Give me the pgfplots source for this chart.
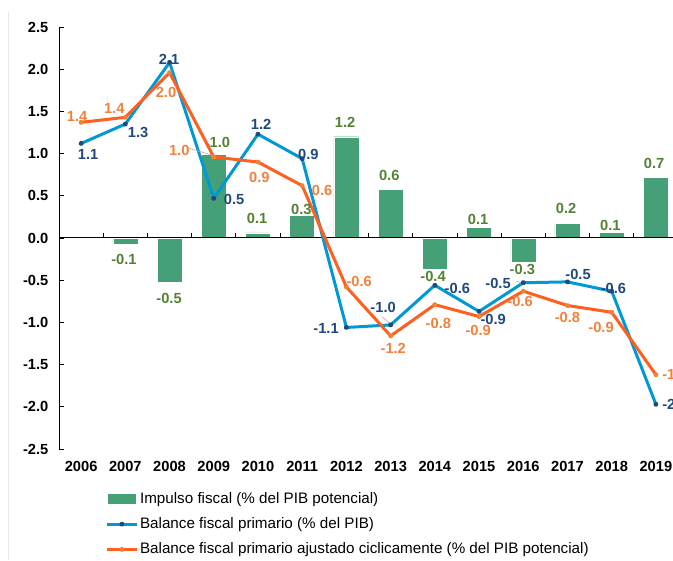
\documentclass[border=0pt]{standalone}
\usepackage{pgfplots}
\pgfplotsset{compat=1.18}
\usepackage{fontspec}
\setmainfont{Liberation Sans}
\definecolor{barg}{RGB}{69,160,119}
\definecolor{lblue}{RGB}{0,153,214}
\definecolor{lorange}{RGB}{255,95,31}
\definecolor{tblue}{RGB}{31,73,125}
\definecolor{torange}{RGB}{240,130,60}
\definecolor{tgreen}{RGB}{84,130,53}
\newcommand{\lab}[4]{\node[text=#1,font=\bfseries\fontsize{11}{13}\selectfont,inner sep=0pt] at (axis cs:#2,#3) {#4};}
\begin{document}
\begin{tikzpicture}
\useasboundingbox (0,0) rectangle (504.75pt,420pt);
\clip (0,0) rectangle (504.75pt,420pt);
\draw[gray!18, line width=0.75pt] (6pt,0) -- (6pt,411pt);
\begin{axis}[
  at={(44.25pt,83.25pt)}, anchor=south west,
  scale only axis, width=464.25pt, height=316.5pt,
  xmin=-0.5, xmax=13.5, ymin=-2.5, ymax=2.5,
  axis y line*=left, axis x line*=bottom,
  x axis line style={draw=none},
  y axis line style={-, line width=0.75pt, black},
  ytick pos=left, xtick pos=left,
  tick align=inside, major tick length=3.5pt,
  ytick={-2.5,-2,-1.5,-1,-0.5,0,0.5,1,1.5,2,2.5},
  yticklabels={-2.5,-2.0,-1.5,-1.0,-0.5,0.0,0.5,1.0,1.5,2.0,2.5},
  ytick style={black, line width=0.6pt},
  xtick={0,1,2,3,4,5,6,7,8,9,10,11,12,13},
  xticklabels={2006,2007,2008,2009,2010,2011,2012,2013,2014,2015,2016,2017,2018,2019},
  xtick style={draw=none},
  ticklabel style={font=\bfseries\fontsize{11}{13}\selectfont},
  yticklabel style={xshift=-4.5pt},
  xticklabel style={yshift=-6pt},
  legend style={at={(0.074,-0.0975)}, anchor=north west, draw=none, fill=none,
    inner sep=0pt, font=\fontsize{11.4}{13.5}\selectfont, row sep=6.2pt,
    cells={anchor=west}, nodes={inner sep=1.5pt}},
  legend cell align=left,
]
\addplot[ybar, bar width=18.75pt, fill=barg, draw=white, line width=0.3pt,
  legend image code/.code={\fill[barg] (0pt,-3.4pt) rectangle (20.5pt,3.4pt);}]
  coordinates {(0,0) (1,-0.07) (2,-0.52) (3,0.99) (4,0.06) (5,0.27) (6,1.2) (7,0.58)
  (8,-0.37) (9,0.13) (10,-0.29) (11,0.17) (12,0.07) (13,0.72)};
\addlegendentry{Impulso fiscal (\% del PIB potencial)}
\draw[black, line width=0.75pt] (axis cs:-0.5,0) -- (axis cs:13.5,0);
\pgfplotsinvokeforeach{0.5,1.5,2.5,3.5,4.5,5.5,6.5,7.5,8.5,9.5,10.5,11.5,12.5}{
  \draw[black, line width=0.6pt] (axis cs:#1,0) -- ++(0pt,3.5pt);
}
\addplot[lblue, line width=2.25pt, line join=round, mark=*, mark size=0.9pt,
  mark options={fill=tblue, draw=tblue},
  legend image code/.code={\draw[lblue, line width=2.25pt] (-1pt,0pt) -- (21.5pt,0pt); \fill[tblue] (10.5pt,0pt) circle (0.9pt);}]
  coordinates {(0,1.12) (1,1.35) (2,2.08) (3,0.47) (4,1.23) (5,0.94) (6,-1.06) (7,-1.03)
  (8,-0.56) (9,-0.87) (10,-0.53) (11,-0.52) (12,-0.63) (13,-1.97)};
\addlegendentry{Balance fiscal primario (\% del PIB)}
\addplot[lorange, line width=2.25pt, line join=round, mark=*, mark size=0.9pt,
  mark options={fill=torange, draw=torange},
  legend image code/.code={\draw[lorange, line width=2.25pt] (-1pt,0pt) -- (21.5pt,0pt); \fill[torange] (10.5pt,0pt) circle (0.9pt);}]
  coordinates {(0,1.37) (1,1.43) (2,1.96) (3,0.96) (4,0.90) (5,0.62) (6,-0.58) (7,-1.16)
  (8,-0.79) (9,-0.93) (10,-0.63) (11,-0.80) (12,-0.88) (13,-1.62)};
\addlegendentry{Balance fiscal primario ajustado ciclicamente (\% del PIB potencial)}
% leader lines
\draw[gray!60, line width=0.5pt] (axis cs:2.42,1.066) -- (axis cs:2.96,0.983);
\draw[gray!60, line width=0.5pt] (axis cs:6.81,-0.936) -- (axis cs:6.97,-1.007);
\draw[gray!60, line width=0.5pt] (axis cs:9.85,-0.51) -- (axis cs:9.98,-0.54);
% blue labels
\lab{tblue}{0.16}{0.995}{1.1}
\lab{tblue}{1.29}{1.256}{1.3}
\lab{tblue}{1.99}{2.12}{2.1}
\lab{tblue}{3.46}{0.462}{0.5}
\lab{tblue}{4.07}{1.351}{1.2}
\lab{tblue}{5.14}{0.995}{0.9}
\lab{tblue}{5.54}{-1.066}{-1.1}
\lab{tblue}{6.83}{-0.818}{-1.0}
\lab{tblue}{8.51}{-0.592}{-0.6}
\lab{tblue}{9.32}{-0.960}{-0.9}
\lab{tblue}{9.43}{-0.533}{-0.5}
\lab{tblue}{11.24}{-0.427}{-0.5}
\lab{tblue}{12.04}{-0.592}{-0.6}
\lab{tblue}{13.43}{-1.967}{-2.0}
% orange labels
\lab{torange}{-0.09}{1.445}{1.4}
\lab{torange}{0.75}{1.540}{1.4}
\lab{torange}{1.92}{1.730}{2.0}
\lab{torange}{2.22}{1.043}{1.0}
\lab{torange}{4.03}{0.723}{0.9}
\lab{torange}{5.45}{0.569}{0.6}
\lab{torange}{6.29}{-0.509}{-0.6}
\lab{torange}{7.06}{-1.303}{-1.2}
\lab{torange}{8.08}{-1.007}{-0.8}
\lab{torange}{8.98}{-1.090}{-0.9}
\lab{torange}{9.93}{-0.746}{-0.6}
\lab{torange}{11.00}{-0.936}{-0.8}
\lab{torange}{11.76}{-1.055}{-0.9}
\lab{torange}{13.43}{-1.611}{-1.6}
% green labels
\lab{tgreen}{0.97}{-0.249}{-0.1}
\lab{tgreen}{1.99}{-0.711}{-0.5}
\lab{tgreen}{3.14}{1.137}{1.0}
\lab{tgreen}{3.98}{0.237}{0.1}
\lab{tgreen}{4.98}{0.344}{0.3}
\lab{tgreen}{5.97}{1.374}{1.2}
\lab{tgreen}{6.97}{0.746}{0.6}
\lab{tgreen}{7.96}{-0.450}{-0.4}
\lab{tgreen}{8.98}{0.225}{0.1}
\lab{tgreen}{9.98}{-0.367}{-0.3}
\lab{tgreen}{10.97}{0.355}{0.2}
\lab{tgreen}{11.97}{0.154}{0.1}
\lab{tgreen}{12.96}{0.889}{0.7}
\end{axis}
\end{tikzpicture}
\end{document}
